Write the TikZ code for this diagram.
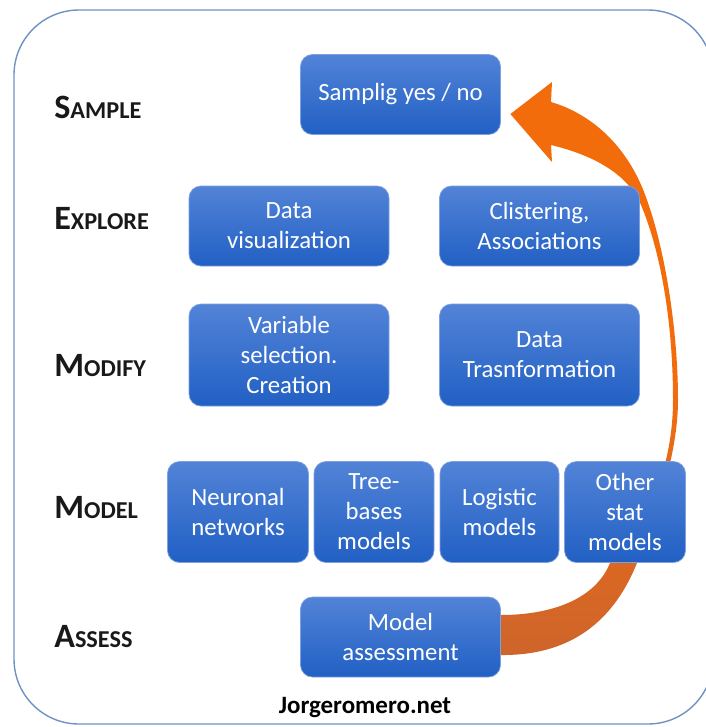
\documentclass[tikz,border=0pt]{standalone}
\usepackage{fontspec}
\setmainfont{Carlito}
\usepackage{xcolor}
\usepackage{tikz}
\usetikzlibrary{shapes,arrows,backgrounds}

\definecolor{boxtop}{RGB}{82,131,215}
\definecolor{boxbot}{RGB}{33,96,196}
\definecolor{boxedge}{RGB}{125,160,222}
\definecolor{arrtop}{RGB}{243,108,12}
\definecolor{arrbot}{RGB}{206,101,44}
\definecolor{framecol}{RGB}{112,146,196}

\newcommand{\stagename}[2]{{\fontsize{19.4}{22}\selectfont #1}{\fontsize{13.8}{16}\selectfont #2}}

\begin{document}
\begin{tikzpicture}
	% % % % % % % % % % % % % % % % % % % % % % % % % % % % % %
	% Define styles
	\tikzstyle{block} = [rectangle, draw=boxedge, line width=0.4pt, top color=boxtop, bottom color=boxbot,
					     text=white, align=center, rounded corners=0.24cm, inner sep=1pt,
					     minimum width=4cm, minimum height=1.6cm, font=\fontsize{14.1}{17.1}\selectfont]
	\tikzstyle{mblock} = [block, minimum height=2.02cm]
	\tikzstyle{stage} = [anchor=base west, inner sep=0pt, font=\bfseries, text=black!90]
	\tikzstyle{foot} = [anchor=base, inner sep=0pt, font=\bfseries\fontsize{14.2}{16}\selectfont]
	\tikzstyle{frame} = [draw=framecol, line width=0.8pt, rounded corners=1.3cm]
	\tikzstyle{arrowfill} = [top color=arrtop, bottom color=arrbot, middle color=arrtop]

	\useasboundingbox (0,0) rectangle (14.1,-14.54);
	\draw [frame] (0.28,-0.2) rectangle (14.26,-14.48);

	% % % % % % % % % % % % % % % % % % % % % % % % % % % % % %
	% Place nodes
	% sample
	\node [block] (smp) at (8.01,-1.89) {Samplig yes / no};
	% explore
	\node [block, below of=smp, node distance=2.63cm, xshift=-2.23cm] (dv) {Data\\visualization};
	\node [block, right of=dv, node distance=5.01cm] (cl) {Clistering,\\Associations};
	% modify
	\node [block, below of=dv, node distance=2.58cm, minimum height=2.04cm] (vs) {Variable\\selection.\\Creation};
	\node [block, right of=vs, node distance=5.01cm, minimum height=2.04cm] (dt) {Data\\Trasnformation};
	% model
	\node [mblock, below of=vs, node distance=3.14cm, xshift=-1.02cm, minimum width=2.82cm] (nn) {Neuronal\\networks};
	\node [mblock, right of=nn, node distance=2.72cm, minimum width=2.4cm] (tb) {Tree-\\bases\\models};
	\node [mblock, right of=tb, node distance=2.51cm, minimum width=2.38cm] (lg) {Logistic\\models};
	\node [mblock, right of=lg, node distance=2.51cm, minimum width=2.42cm] (os) {Other\\stat\\models};
	% assess
	\node [block, below of=smp, node distance=10.85cm] (ma) {Model\\assessment};

	% stage names
	\node [stage] (lsmp) at (1.08,-2.36) {\stagename{S}{AMPLE}};
	\node [stage] (lexp) at (1.08,-4.59) {\stagename{E}{XPLORE}};
	\node [stage] (lmod) at (1.08,-7.52) {\stagename{M}{ODIFY}};
	\node [stage] (lmdl) at (1.08,-10.36) {\stagename{M}{ODEL}};
	\node [stage] (lass) at (1.08,-12.94) {\stagename{A}{SSESS}};

	\node [foot] (web) at (7.3,-14.26) {Jorgeromero.net};

	% Draw edges
	% % loop back from assessment to sampling
	\begin{pgfonlayer}{background}
	\shade [arrowfill] ([yshift=-0.36cm]ma.east)
		.. controls (11.7,-13.12) and (12.4,-12.1) .. (12.74,-11.26)
		.. controls (13.1,-10.4) and (13.56,-9.1) .. (13.56,-8.0)
		.. controls (13.56,-6.6) and (13.3,-5.0) .. (12.94,-4.0)
		.. controls (12.6,-3.0) and (11.9,-2.3) .. (11.02,-2.04)
		-- (11.04,-1.64) -- ([xshift=0.19cm,yshift=-0.39cm]smp.east) -- (11.04,-3.24) -- (11.02,-2.9)
		.. controls (11.6,-3.04) and (12.5,-3.35) .. (12.82,-4.1)
		.. controls (13.2,-5.0) and (13.46,-6.4) .. (13.46,-8.0)
		.. controls (13.46,-9.4) and (12.9,-10.6) .. (12.2,-11.26)
		.. controls (11.9,-12.0) and (11.0,-12.3) .. ([yshift=0.44cm]ma.east) -- cycle;
	\end{pgfonlayer}
\end{tikzpicture}
\end{document}
